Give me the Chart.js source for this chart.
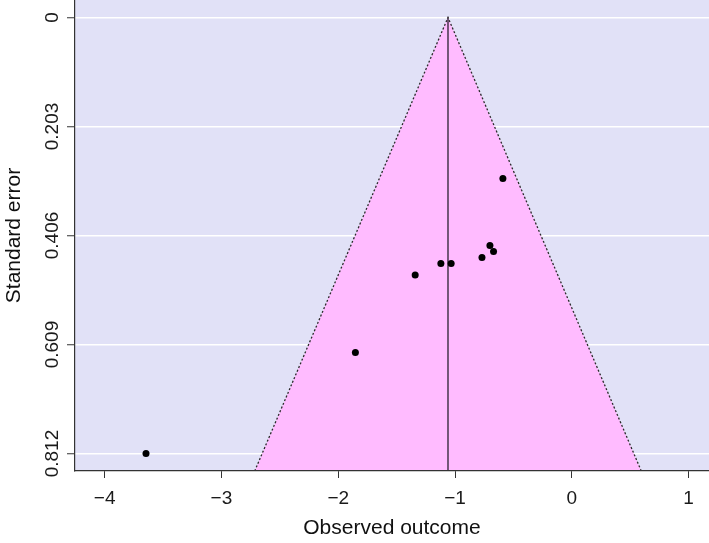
<!DOCTYPE html>
<html><head><meta charset="utf-8">
<script src="https://cdn.jsdelivr.net/npm/chart.js@4"></script>
<style>html,body{margin:0;padding:0;background:#fff;}#wrap{width:709px;height:543px;position:relative;}</style>
</head><body><div id="wrap"><canvas id="c"></canvas></div>
<script>
// Data
const observedOutcome = [-0.590, -0.701, -0.670, -0.769, -1.121, -1.033, -1.341, -1.853, -3.646];
const standardError   = [0.300, 0.4245, 0.4357, 0.4468, 0.458, 0.458, 0.4795, 0.624, 0.812];
const funnelX = [-2.715, -1.06, 0.595];
const funnelY = [0.8445, 0, 0.8445];
const centerX = [-1.06, -1.06];
const centerY = [0, 0.8445];
const xTickValues = [-4, -3, -2, -1, 0, 1];
const yTickValues = [0, 0.203, 0.406, 0.609, 0.812];
const yTickLabels = ['0', '0.203', '0.406', '0.609', '0.812'];

const FONT = "'Liberation Sans', Arial, Helvetica, sans-serif";
const zip = (xs, ys) => xs.map((x, i) => ({x: x, y: ys[i]}));

const bgPlugin = {
  id: 'plotBg',
  beforeDraw(chart) {
    const {ctx, chartArea: a} = chart;
    ctx.save();
    ctx.fillStyle = '#E1E1F7';
    ctx.fillRect(a.left, a.top, a.right - a.left, a.bottom - a.top);
    ctx.restore();
  }
};

function noPad(s) {
  s.paddingTop = 0; s.paddingBottom = 0; s.paddingLeft = 0; s.paddingRight = 0;
}

new Chart(document.getElementById('c'), {
  type: 'line',
  data: {
    datasets: [
      {
        label: 'Studies',
        data: zip(observedOutcome, standardError),
        showLine: false,
        pointRadius: 3.5,
        pointBackgroundColor: '#000',
        pointBorderColor: '#000',
        pointBorderWidth: 0
      },
      {
        label: 'Estimate',
        data: zip(centerX, centerY),
        borderColor: '#2a2030',
        borderWidth: 1.3,
        pointRadius: 0,
        fill: false
      },
      {
        label: 'Funnel',
        data: zip(funnelX, funnelY),
        borderColor: '#2a2a2a',
        borderWidth: 1.3,
        borderDash: [2, 2],
        backgroundColor: '#FFBBFF',
        pointRadius: 0,
        tension: 0,
        fill: {value: funnelY[0]}
      }
    ]
  },
  options: {
    responsive: true,
    maintainAspectRatio: false,
    animation: false,
    layout: {padding: 0, autoPadding: false},
    plugins: {legend: {display: false}, tooltip: {enabled: false}},
    scales: {
      x: {
        type: 'linear',
        min: -4.254, max: 1.175,
        afterBuildTicks: s => { s.ticks = xTickValues.map(v => ({value: v})); },
        afterFit: s => { s.height = 72; noPad(s); },
        ticks: {
          autoSkip: false, maxRotation: 0,
          callback: v => String(v).replace('-', '\u2212'),
          font: {size: 19, family: FONT}, color: '#1a1a1a', padding: 9
        },
        grid: {drawOnChartArea: false, drawTicks: true, tickLength: 7, tickColor: '#333', tickWidth: 1},
        border: {display: true, color: '#333', width: 1.2, z: 1},
        title: {display: true, text: 'Observed outcome', font: {size: 21, family: FONT}, color: '#111', padding: {top: 0, bottom: 2}}
      },
      y: {
        type: 'linear',
        reverse: true,
        min: -0.0325, max: 0.8445,
        afterBuildTicks: s => { s.ticks = yTickValues.map(v => ({value: v})); },
        afterFit: s => { s.width = 75; noPad(s); },
        ticks: {
          autoSkip: false, minRotation: 90, maxRotation: 90, crossAlign: 'center',
          callback: v => yTickLabels[yTickValues.indexOf(v)],
          font: {size: 19, family: FONT}, color: '#1a1a1a', padding: -10
        },
        grid: {color: '#ffffff', lineWidth: 1.5, drawTicks: true, tickLength: 8, tickColor: '#333', tickWidth: 1},
        border: {display: true, color: '#333', width: 1.2, z: 1},
        title: {display: true, text: 'Standard error', font: {size: 21, family: FONT}, color: '#111', padding: {top: 2, bottom: 0}}
      }
    }
  },
  plugins: [bgPlugin]
});
</script>
</body></html>
